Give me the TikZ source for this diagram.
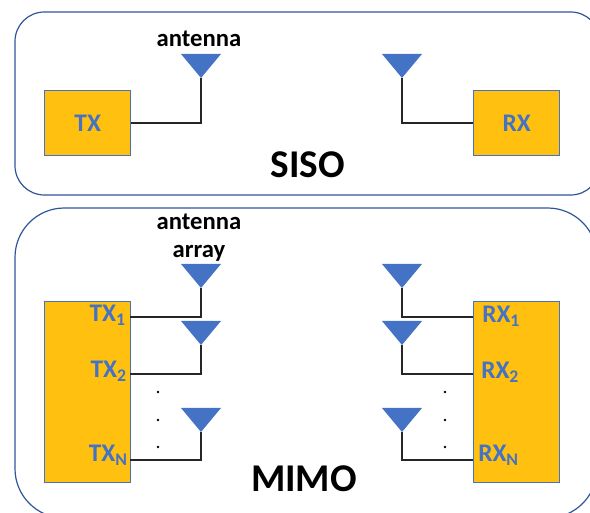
\documentclass[tikz,border=0pt]{standalone}
\usepackage{fontspec}
\setmainfont{Carlito}
\usepackage{xcolor}
\usetikzlibrary{positioning,calc}
\definecolor{boxline}{HTML}{2F5597}
\definecolor{antblue}{HTML}{4472C4}
\definecolor{boxfill}{HTML}{FFC010}
\tikzset{
  panel/.style={draw=boxline,line width=0.9pt},
  radio/.style={draw=antblue,fill=boxfill,line width=1.1pt,inner sep=0pt,anchor=north west},
  port/.style={text=antblue,font=\fontsize{19}{22}\selectfont\bfseries,inner sep=0pt},
  caption/.style={font=\fontsize{18.5}{21}\selectfont\bfseries,inner sep=0pt,anchor=base},
  title/.style={font=\fontsize{29.5}{32}\selectfont\bfseries,inner sep=0pt,anchor=base},
  wire/.style={black!85,line width=1.4pt,line join=miter}
}
\newcommand{\antenna}[1]{\fill[antblue] (#1) -- ++(-20,-24) -- ++(40,0) -- cycle;}
\begin{document}
\begin{tikzpicture}[x=0.75pt,y=-0.75pt]
  \useasboundingbox (0,0) rectangle (590,513);
  \begin{scope}
    \clip (0,0) rectangle (590,513);
    % panels
    \draw[panel,rounded corners=22] (15,100) -- (15,12) -- (600,12) -- (600,195) -- (15,195) -- cycle;
    \draw[panel,rounded corners=37] (15,400) -- (15,208) -- (597,208) -- (597,518) -- (15,518) -- cycle;
  \end{scope}
  % SISO
  \node[radio,minimum width=64.5pt,minimum height=48.75pt] (tx) at (44,90) {};
  \node[radio,minimum width=64.5pt,minimum height=48.75pt] (rx) at (473,90) {};
  \node[port] at (tx.center) {TX};
  \node[port] at (rx.center) {RX};
  \coordinate (a1) at (201,78);
  \coordinate (a2) at (402,78);
  \draw[wire] (tx.east) -| (a1);
  \draw[wire] (rx.west) -| (a2);
  \foreach \p in {a1,a2}{\antenna{\p}}
  \node[caption] (lab1) at (199,47) {antenna};
  \node[title] (siso) at (308,178) {SISO};
  % MIMO
  \node[radio,minimum width=64.5pt,minimum height=135.75pt] (txm) at (44,301) {};
  \node[radio,minimum width=64.5pt,minimum height=135.75pt] (rxm) at (473,301) {};
  \coordinate (t1) at (130,317); \coordinate (t2) at (130,374); \coordinate (t3) at (130,460);
  \coordinate (r1) at (473,317); \coordinate (r2) at (473,374); \coordinate (r3) at (473,460);
  \coordinate (b1) at (201,288); \coordinate (b2) at (201,345); \coordinate (b3) at (201,432);
  \coordinate (c1) at (402,288); \coordinate (c2) at (402,345); \coordinate (c3) at (402,432);
  \foreach \i in {1,2,3}{
    \draw[wire] (t\i) -| (b\i);
    \draw[wire] (r\i) -| (c\i);
    \antenna{b\i}
    \antenna{c\i}
  }
  \node[port,anchor=base east] at (126,322) {TX\textsubscript{1}};
  \node[port,anchor=base east] at (127,378) {TX\textsubscript{2}};
  \node[port,anchor=base east] at (128,462) {TX\textsubscript{N}};
  \node[port,anchor=base west] at (482,323) {RX\textsubscript{1}};
  \node[port,anchor=base west] at (481,379) {RX\textsubscript{2}};
  \node[port,anchor=base west] at (478,462) {RX\textsubscript{N}};
  \foreach \y in {392,420,447}{
    \fill (158,\y) circle (1.1pt);
    \fill (445,\y) circle (1.1pt);
  }
  \node[caption] (lab2) at (199,230) {antenna};
  \node[caption] (lab3) at (199,258) {array};
  \node[title] (mimo) at (304,492) {MIMO};
\end{tikzpicture}
\end{document}
